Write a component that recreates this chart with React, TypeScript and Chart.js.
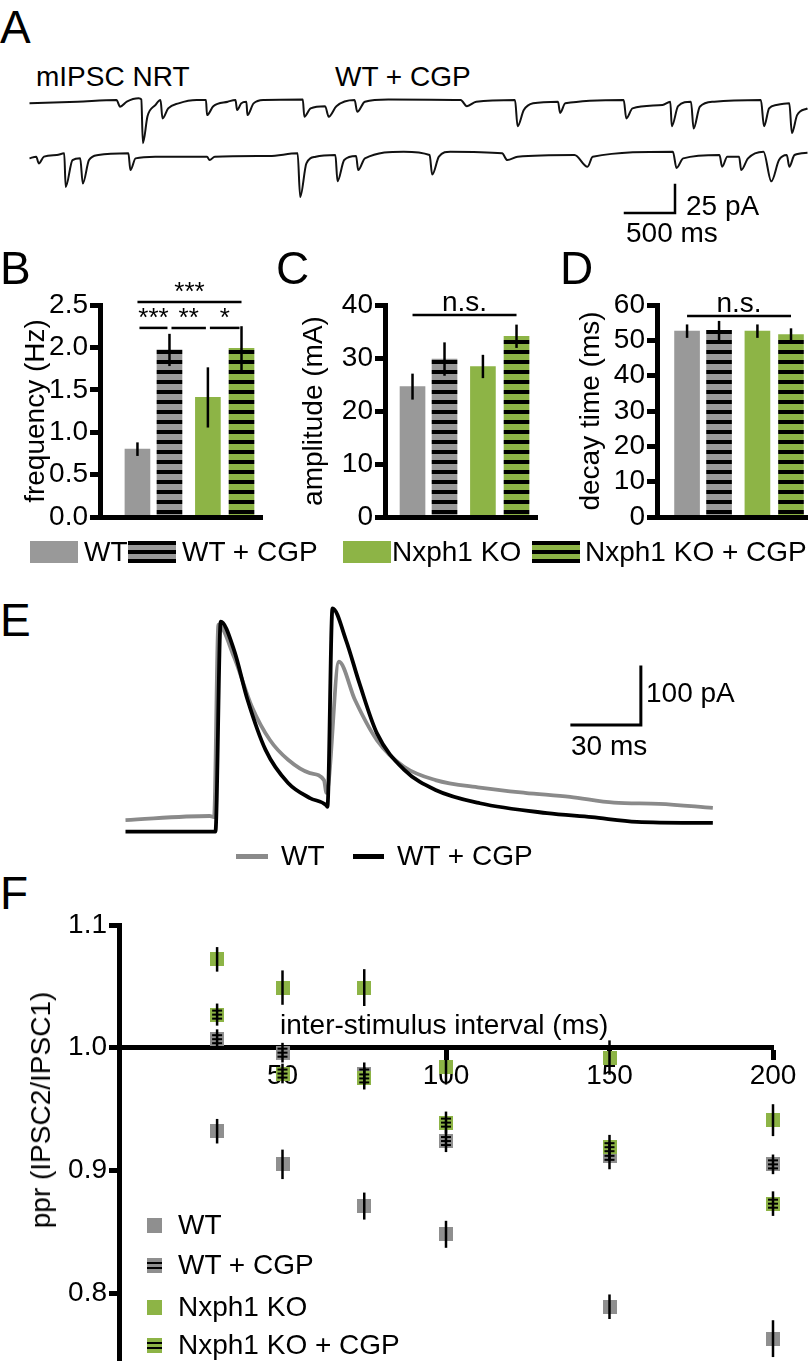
import React, { useEffect, useRef } from 'react';
import { Chart, registerables } from 'chart.js';

Chart.register(...registerables);

const FONT = "'Liberation Sans', Arial, Helvetica, sans-serif";
const GREY = '#999999';
const GREEN = '#8db446';
const F_GREY = '#8f8f8f';

// ---------------- Panel A : mIPSC traces (time ms, current pA) ----------------
const traceA1Time = [0, 481, 870, 906, 973, 1092, 1118, 1134, 1180, 1258, 1310, 1330, 1387, 1491, 1672, 1765, 1775, 1838, 1983, 2060, 2076, 2117, 2169, 2179, 2241, 2345, 2733, 2748, 2811, 2956, 2992, 3069, 3251, 3277, 3354, 3587, 4312, 4374, 4467, 4855, 4881, 4943, 5036, 5285, 5306, 5358, 5942, 5968, 6030, 6330, 6408, 6423, 6486, 6615, 6641, 6703, 6848, 7314, 7345, 7396, 7469, 7598, 7624, 7676, 7780];
const traceA1Current = [-1.5, 0, 1.5, -4.5, 0, 3, 2, -37, -13, -3, 1.5, -15, -6, -1.5, 1.5, 1.5, -12, -4, 0, 1.5, -7.5, -1.5, 0, -12, -1.5, 1.5, 2, -13.4, -6, -4, -13.4, -4, 1.5, -9, 0, 2, 1.5, -4, 0, 1.5, -22, -7.5, -1.5, 0, -10, -1.5, 1.5, -15, -6, -3, 0, -22, -4, 0, -24, -4.5, 0, 1.5, -22, -6, -3, -1.5, -28, -12, -6];
const traceA2Time = [0, 67, 93, 145, 274, 347, 362, 430, 507, 533, 595, 688, 989, 1009, 1061, 1258, 1775, 1801, 1853, 2397, 2681, 2707, 2769, 2862, 3059, 3080, 3147, 3266, 3287, 3354, 3742, 4001, 4027, 4094, 4208, 4726, 4778, 4881, 5450, 5580, 5632, 6434, 6470, 6537, 6900, 6926, 6978, 7096, 7117, 7185, 7340, 7418, 7495, 7573, 7598, 7650, 7780];
const traceA2Current = [-1.5, 0, -6, 0, 1.5, 3, -27, -3, -1.5, -24, -3, 1.5, 3, -12, -1.5, 0, 0, -3, 0, 0.6, 3, -36, -6, 0, 1.5, -22, -3, 0.6, -12, -1.5, 4.5, 1.5, -16, 0, 4.5, 3, -3, 0, 1.5, -9, 0, 4.5, -10, -1.5, 1.5, -9, 0, 0, -12, -1.5, 4.5, -22, -3, 1.5, -9, 1.5, 3.5];
const scaleBarA = { ms: 500, pA: 25 };

// ---------------- Panels B–D : bar charts ----------------
const groups = ['WT', 'WT + CGP', 'Nxph1 KO', 'Nxph1 KO + CGP'];
const frequencyHz = [0.8, 1.97, 1.41, 1.99];
const frequencySem = [0.08, 0.19, 0.355, 0.26];
const amplitudeMean = [24.6, 29.8, 28.4, 34.1];
const amplitudeSem = [2.45, 3.15, 2.2, 2.2];
const decayMs = [52.6, 52.8, 52.6, 51.6];
const decaySem = [1.9, 2.7, 1.9, 1.8];
const freqTicks = [0, 0.5, 1.0, 1.5, 2.0, 2.5];
const ampTicks = [0, 10, 20, 30, 40];
const decayTicks = [0, 10, 20, 30, 40, 50, 60];
const freqSig = [
  { from: 0, to: 3, level: 2.535, label: '***' },
  { from: 0, to: 1, level: 2.23, label: '***' },
  { from: 1, to: 2, level: 2.23, label: '**' },
  { from: 2, to: 3, level: 2.23, label: '*' },
];
const ampSig = [{ from: 0, to: 3, level: 38.1, label: 'n.s.' }];
const decaySig = [{ from: 0, to: 3, level: 56.9, label: 'n.s.' }];

// ---------------- Panel E : evoked IPSC traces (time ms, current pA) ----------------
const tE_WT = [0, 36.6, 38.5, 40.4, 47.2, 55.0, 62.8, 70.7, 80.2, 86.3, 87.4, 92.8, 99.8, 109.3, 121.1, 134.8, 154.1, 173.7, 193.3, 212.4, 232.0, 255.4];
const iE_WT = [20, 27, 25, 357, 301, 215, 158, 124, 101, 89, 67, 293, 227, 158, 112, 89, 76, 67, 60, 50, 48, 41];
const tE_CGP = [0, 39.1, 41.4, 47.2, 53.1, 60.9, 70.7, 80.2, 87.2, 87.8, 90.0, 95.9, 101.7, 109.3, 121.1, 134.8, 154.1, 183.3, 202.8, 222.4, 255.4];
const iE_CGP = [0, 0, 362, 313, 227, 141, 84, 58, 46, 43, 385, 330, 256, 170, 107, 72, 49, 32, 25, 17, 15];
const scaleBarE = { ms: 30, pA: 100 };

// ---------------- Panel F : paired-pulse ratio ----------------
const intervalsMs = [30, 50, 75, 100, 150, 200];
const pprWT = [0.932, 0.905, 0.871, 0.848, 0.789, 0.763];
const pprWTSem = [0.01, 0.012, 0.011, 0.011, 0.01, 0.015];
const pprWTCGP = [1.007, 0.996, 0.979, 0.924, 0.912, 0.905];
const pprWTCGPSem = [0.008, 0.008, 0.009, 0.009, 0.011, 0.008];
const pprKO = [1.072, 1.049, 1.049, 0.984, 0.992, 0.941];
const pprKOSem = [0.01, 0.014, 0.015, 0.014, 0.014, 0.013];
const pprKOCGP = [1.027, 0.979, 0.975, 0.939, 0.919, 0.873];
const pprKOCGPSem = [0.009, 0.008, 0.009, 0.009, 0.01, 0.01];
const pprTicks = [0.8, 0.9, 1.0, 1.1];
const intervalTicks = [50, 100, 150, 200];

// ---------------- layout constants ----------------
const SLOT_POS = [0, 1, 2.2, 3.25];

function stripePattern(ctx: CanvasRenderingContext2D, color: string) {
  const c = document.createElement('canvas');
  c.width = 10; c.height = 10;
  const g = c.getContext('2d')!;
  g.fillStyle = color; g.fillRect(0, 0, 10, 10);
  g.fillStyle = '#000'; g.fillRect(0, 0, 10, 4);
  return ctx.createPattern(c, 'repeat');
}

function makeMarker(color: string, striped: boolean) {
  const s = 14;
  const c = document.createElement('canvas');
  c.width = s; c.height = s;
  const g = c.getContext('2d')!;
  g.fillStyle = color; g.fillRect(0, 0, s, s);
  if (striped) {
    g.fillStyle = '#000';
    [2, 6, 10].forEach((y) => g.fillRect(2, y, s - 4, 2));
  }
  return c;
}

function barErrorPlugin(means: number[], sems: number[]) {
  return {
    id: 'barErrors',
    afterDatasetsDraw(chart: any) {
      const ctx = chart.ctx; const y = chart.scales.y;
      const bars = chart.getDatasetMeta(0).data;
      ctx.save(); ctx.strokeStyle = '#000'; ctx.lineWidth = 2.5;
      bars.forEach((bar: any, i: number) => {
        ctx.beginPath();
        ctx.moveTo(bar.x, y.getPixelForValue(means[i] - sems[i]));
        ctx.lineTo(bar.x, y.getPixelForValue(means[i] + sems[i]));
        ctx.stroke();
      });
      ctx.restore();
    },
  };
}

function bracketPlugin(brackets: any[]) {
  return {
    id: 'brackets',
    afterDatasetsDraw(chart: any) {
      const ctx = chart.ctx; const y = chart.scales.y;
      const bars = chart.getDatasetMeta(0).data;
      ctx.save(); ctx.strokeStyle = '#000'; ctx.fillStyle = '#000'; ctx.lineWidth = 2.5;
      brackets.forEach((b) => {
        const gap = b.to - b.from === 1 ? 2 : 0;
        const x1 = bars[b.from].x + gap;
        const x2 = bars[b.to].x - gap;
        const py = y.getPixelForValue(b.level);
        ctx.beginPath(); ctx.moveTo(x1, py); ctx.lineTo(x2, py); ctx.stroke();
        const star = b.label.indexOf('*') >= 0;
        ctx.font = `${star ? 26 : 28}px ${FONT}`;
        ctx.textAlign = 'center'; ctx.textBaseline = 'alphabetic';
        ctx.fillText(b.label, (x1 + x2) / 2, py - (star ? 2 : 4));
      });
      ctx.restore();
    },
  };
}

function scaleBarPlugin(corner: { x: number; y: number }, dx: number, dy: number, width: number) {
  return {
    id: 'scaleBar',
    afterDatasetsDraw(chart: any) {
      const ctx = chart.ctx; const xs = chart.scales.x; const ys = chart.scales.y;
      const cx = xs.getPixelForValue(corner.x); const cy = ys.getPixelForValue(corner.y);
      const lx = xs.getPixelForValue(corner.x - dx); const ty = ys.getPixelForValue(corner.y + dy);
      ctx.save(); ctx.strokeStyle = '#000'; ctx.lineWidth = width; ctx.lineCap = 'square';
      ctx.beginPath(); ctx.moveTo(lx, cy); ctx.lineTo(cx, cy); ctx.lineTo(cx, ty); ctx.stroke();
      ctx.restore();
    },
  };
}

function pprErrorPlugin(series: { mean: number[]; sem: number[] }[]) {
  return {
    id: 'pprErrors',
    afterDatasetsDraw(chart: any) {
      const ctx = chart.ctx; const xs = chart.scales.x; const ys = chart.scales.y;
      ctx.save(); ctx.strokeStyle = '#000'; ctx.lineWidth = 2.5;
      series.forEach((s) => {
        intervalsMs.forEach((iv, j) => {
          const px = xs.getPixelForValue(iv);
          ctx.beginPath();
          ctx.moveTo(px, ys.getPixelForValue(s.mean[j] - s.sem[j]));
          ctx.lineTo(px, ys.getPixelForValue(s.mean[j] + s.sem[j]));
          ctx.stroke();
        });
      });
      ctx.restore();
    },
  };
}

const tickFont = { family: FONT, size: 28 };

function barPanelConfig(ctx: CanvasRenderingContext2D, p: any) {
  const fills = [GREY, stripePattern(ctx, GREY), GREEN, stripePattern(ctx, GREEN)];
  return {
    type: 'bar',
    data: {
      labels: groups,
      datasets: [{
        data: p.means.map((m: number, i: number) => ({ x: SLOT_POS[i], y: m })),
        backgroundColor: fills,
        borderWidth: 0,
        barThickness: 25,
      }],
    },
    options: {
      animation: false, responsive: false, devicePixelRatio: 1,
      layout: { padding: { top: 35, right: p.padRight, bottom: 13, left: 0 } },
      plugins: { legend: { display: false }, tooltip: { enabled: false } },
      scales: {
        x: {
          type: 'linear', min: p.xMin, max: p.xMax, offset: false,
          ticks: { display: false },
          grid: { display: false, drawTicks: false },
          border: { display: true, width: 5, color: '#000', z: 1 },
          afterFit: (s: any) => { s.height = 0; s.paddingLeft = 0; s.paddingRight = 0; },
        },
        y: {
          type: 'linear', min: 0, max: p.yMax,
          afterBuildTicks: (s: any) => { s.ticks = p.ticks.map((v: number) => ({ value: v })); },
          ticks: { color: '#000', font: tickFont, padding: 2, autoSkip: false, callback: (v: any) => Number(v).toFixed(p.decimals) },
          grid: { display: true, drawOnChartArea: false, drawTicks: true, tickLength: 10, tickWidth: 5, tickColor: '#000' },
          border: { display: true, width: 5, color: '#000', z: 1 },
          title: { display: true, text: p.title, color: '#000', font: tickFont, padding: { top: p.titlePad, bottom: 0 } },
          afterFit: (s: any) => { s.width = p.yWidth; s.paddingTop = 0; s.paddingBottom = 0; },
        },
      },
    },
    plugins: [barErrorPlugin(p.means, p.sems), bracketPlugin(p.sig)],
  };
}

function configA() {
  const line = { borderColor: '#111', borderWidth: 2, pointRadius: 0, cubicInterpolationMode: 'monotone', borderJoinStyle: 'round' };
  return {
    type: 'line',
    data: {
      datasets: [
        { ...line, data: traceA1Time.map((t, i) => ({ x: t, y: traceA1Current[i] })) },
        { ...line, data: traceA2Time.map((t, i) => ({ x: t, y: traceA2Current[i] - 49.1 })) },
      ],
    },
    options: {
      animation: false, responsive: false, devicePixelRatio: 1,
      layout: { padding: 0 },
      plugins: { legend: { display: false }, tooltip: { enabled: false } },
      scales: {
        x: { type: 'linear', display: false, min: -295, max: 7805 },
        y: { type: 'linear', display: false, min: -132.4, max: 37.2 },
      },
    },
    plugins: [scaleBarPlugin({ x: 6455, y: -99.4 }, scaleBarA.ms, scaleBarA.pA, 2.5)],
  };
}

function configE() {
  const line = { borderWidth: 3.8, pointRadius: 0, cubicInterpolationMode: 'monotone', borderJoinStyle: 'round' };
  return {
    type: 'line',
    data: {
      datasets: [
        { ...line, label: 'WT + CGP', data: tE_CGP.map((t, i) => ({ x: t, y: iE_CGP[i] })), borderColor: '#000' },
        { ...line, label: 'WT', data: tE_WT.map((t, i) => ({ x: t, y: iE_WT[i] })), borderColor: '#8a8a8a' },
      ],
    },
    options: {
      animation: false, responsive: false, devicePixelRatio: 1,
      layout: { padding: 0 },
      plugins: { legend: { display: false }, tooltip: { enabled: false } },
      scales: {
        x: { type: 'linear', display: false, min: -11.09, max: 293.3 },
        y: { type: 'linear', display: false, min: -31.6, max: 416.7 },
      },
    },
    plugins: [scaleBarPlugin({ x: 224.1, y: 184 }, scaleBarE.ms, scaleBarE.pA, 3)],
  };
}

function configF() {
  const mk = (label: string, ys: number[], color: string, striped: boolean, order: number) => ({
    label,
    data: intervalsMs.map((x, i) => ({ x, y: ys[i] })),
    pointStyle: makeMarker(color, striped),
    pointRadius: 7,
    hoverRadius: 7,
    order,
    clip: false,
  });
  return {
    type: 'scatter',
    data: {
      datasets: [
        mk('WT', pprWT, F_GREY, false, 3),
        mk('WT + CGP', pprWTCGP, F_GREY, true, 2),
        mk('Nxph1 KO', pprKO, GREEN, false, 1),
        mk('Nxph1 KO + CGP', pprKOCGP, GREEN, true, 0),
      ],
    },
    options: {
      animation: false, responsive: false, devicePixelRatio: 1,
      layout: { padding: { top: 25, right: 37, bottom: 0, left: 0 } },
      plugins: { legend: { display: false }, tooltip: { enabled: false } },
      scales: {
        x: {
          type: 'linear', min: 0, max: 200, position: { y: 1.0 },
          afterBuildTicks: (s: any) => { s.ticks = intervalTicks.map((v) => ({ value: v })); },
          ticks: { color: '#000', font: tickFont, padding: 2, maxRotation: 0, autoSkip: false, callback: (v: any) => String(v) },
          grid: { display: true, drawOnChartArea: false, drawTicks: true, tickLength: 10, tickWidth: 5, tickColor: '#000' },
          border: { display: true, width: 5, color: '#000' },
          afterFit: (s: any) => { s.paddingLeft = 0; s.paddingRight = 0; },
        },
        y: {
          type: 'linear', min: 0.7456, max: 1.1,
          afterBuildTicks: (s: any) => { s.ticks = pprTicks.map((v) => ({ value: v })); },
          ticks: { color: '#000', font: tickFont, padding: 2, autoSkip: false, callback: (v: any) => Number(v).toFixed(1) },
          grid: { display: true, drawOnChartArea: false, drawTicks: true, tickLength: 10, tickWidth: 5, tickColor: '#000' },
          border: { display: true, width: 5, color: '#000' },
          afterFit: (s: any) => { s.width = 119; s.paddingTop = 0; s.paddingBottom = 0; },
        },
      },
    },
    plugins: [pprErrorPlugin([
      { mean: pprWT, sem: pprWTSem },
      { mean: pprWTCGP, sem: pprWTCGPSem },
      { mean: pprKO, sem: pprKOSem },
      { mean: pprKOCGP, sem: pprKOCGPSem },
    ])],
  };
}

function ChartBox({ left, top, width, height, build }: any) {
  const ref = useRef<HTMLCanvasElement>(null);
  useEffect(() => {
    const canvas = ref.current!;
    const chart = new Chart(canvas, build(canvas.getContext('2d')) as any);
    return () => chart.destroy();
  }, []);
  return (
    <canvas ref={ref} width={width} height={height}
      style={{ position: 'absolute', left, top, width, height }} />
  );
}

function Txt({ x, y, size = 28, children, sx = 1 }: any) {
  return (
    <div style={{
      position: 'absolute', left: x, top: y, fontSize: size, lineHeight: 1,
      whiteSpace: 'nowrap', color: '#000', fontFamily: FONT,
      transform: `translateY(-50%) scaleX(${sx})`, transformOrigin: 'left center',
    }}>{children}</div>
  );
}

const stripedBg = (c: string) => `repeating-linear-gradient(to bottom, #000 0px, #000 4px, ${c} 4px, ${c} 9px)`;
const markerStripes = (c: string) => `linear-gradient(to bottom, ${c} 0px, ${c} 4px, #000 4px, #000 6px, ${c} 6px, ${c} 9px, #000 9px, #000 11px, ${c} 11px)`;

export default function App() {
  const legendRow = [
    { sw: 30, tx: 84, label: groups[0], bg: GREY },
    { sw: 128, tx: 182, label: groups[1], bg: stripedBg(GREY) },
    { sw: 343, tx: 392, label: groups[2], bg: GREEN },
    { sw: 532, tx: 585, label: groups[3], bg: stripedBg(GREEN) },
  ];
  const fLegend = [
    { y: 1225, label: groups[0], bg: F_GREY },
    { y: 1265, label: groups[1], bg: markerStripes(F_GREY) },
    { y: 1307, label: groups[2], bg: GREEN },
    { y: 1345, label: groups[3], bg: markerStripes(GREEN) },
  ];
  return (
    <div style={{ position: 'absolute', left: 0, top: 0, width: 810, height: 1368, overflow: 'hidden', background: '#fff', fontFamily: FONT }}>
      {/* Panel A */}
      <Txt x={0} y={27} size={46}>A</Txt>
      <Txt x={36} y={77}>mIPSC NRT</Txt>
      <Txt x={335} y={77}>WT + CGP</Txt>
      <ChartBox left={0} top={60} width={810} height={190} build={() => configA()} />
      <Txt x={686} y={206}>25 pA</Txt>
      <Txt x={626} y={233}>500 ms</Txt>

      {/* Panels B, C, D */}
      <Txt x={0} y={268} size={46}>B</Txt>
      <Txt x={276} y={268} size={46}>C</Txt>
      <Txt x={560} y={268} size={46}>D</Txt>
      <ChartBox left={0} top={270} width={270} height={260}
        build={(ctx: any) => barPanelConfig(ctx, { means: frequencyHz, sems: frequencySem, ticks: freqTicks, decimals: 1, title: 'frequency (Hz)', xMin: -1.17, xMax: 3.89, yMax: 2.5, sig: freqSig, yWidth: 100, titlePad: 19, padRight: 8 })} />
      <ChartBox left={270} top={270} width={275} height={260}
        build={(ctx: any) => barPanelConfig(ctx, { means: amplitudeMean, sems: amplitudeSem, ticks: ampTicks, decimals: 0, title: 'amplitude (mA)', xMin: -0.86, xMax: 3.89, yMax: 40, sig: ampSig, yWidth: 115, titlePad: 27, padRight: 8 })} />
      <ChartBox left={545} top={270} width={265} height={260}
        build={(ctx: any) => barPanelConfig(ctx, { means: decayMs, sems: decaySem, ticks: decayTicks, decimals: 0, title: 'decay time (ms)', xMin: -0.94, xMax: 3.75, yMax: 60, sig: decaySig, yWidth: 112, titlePad: 29, padRight: 3 })} />
      {legendRow.map((l) => (
        <React.Fragment key={l.label}>
          <div style={{ position: 'absolute', left: l.sw, top: 541, width: 48, height: 22, background: l.bg }} />
          <Txt x={l.tx} y={552}>{l.label}</Txt>
        </React.Fragment>
      ))}

      {/* Panel E */}
      <Txt x={0} y={620} size={46}>E</Txt>
      <ChartBox left={100} top={590} width={700} height={260} build={() => configE()} />
      <Txt x={646} y={693}>100 pA</Txt>
      <Txt x={571} y={746}>30 ms</Txt>
      <div style={{ position: 'absolute', left: 236, top: 854, width: 32, height: 5, background: '#8a8a8a' }} />
      <Txt x={281} y={856}>WT</Txt>
      <div style={{ position: 'absolute', left: 353, top: 854, width: 31, height: 5, background: '#000' }} />
      <Txt x={397} y={856}>WT + CGP</Txt>

      {/* Panel F */}
      <Txt x={0} y={893} size={46}>F</Txt>
      <ChartBox left={0} top={900} width={810} height={468} build={() => configF()} />
      <Txt x={280} y={1025}>inter-stimulus interval (ms)</Txt>
      <div style={{ position: 'absolute', left: 41, top: 1110, transform: 'translate(-50%, -50%) rotate(-90deg)', fontSize: 28, lineHeight: 1, whiteSpace: 'nowrap', fontFamily: FONT }}>ppr (IPSC2/IPSC1)</div>
      {fLegend.map((l) => (
        <React.Fragment key={l.label}>
          <div style={{ position: 'absolute', left: 147, top: l.y - 7, width: 15, height: 15, background: l.bg }} />
          <Txt x={178} y={l.y}>{l.label}</Txt>
        </React.Fragment>
      ))}
    </div>
  );
}
